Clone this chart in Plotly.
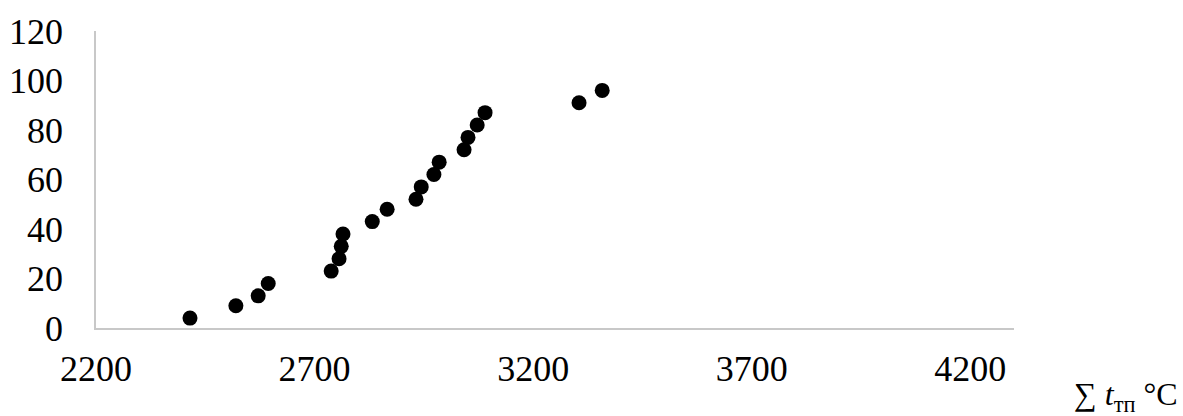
import plotly.graph_objects as go

# Data
sum_t = [2415, 2520, 2571, 2594, 2738, 2756, 2761, 2765, 2832, 2866,
         2932, 2944, 2973, 2985, 3042, 3051, 3072, 3090, 3305, 3358]
values = [4, 9, 13, 18, 23, 28, 33, 38, 43, 48,
          52, 57, 62, 67, 72, 77, 82, 87, 91, 96]
x_ticks = [2200, 2700, 3200, 3700, 4200]
y_ticks = [0, 20, 40, 60, 80, 100, 120]

W, H = 1183, 416
L, R, T, B = 96, 1014, 31, 328

fig = go.Figure()
fig.add_trace(go.Scatter(
    x=sum_t, y=values, mode="markers",
    marker=dict(color="black", size=15, line=dict(width=0)),
    showlegend=False, cliponaxis=False,
))

font = dict(family="Liberation Serif, Times New Roman, serif", size=36, color="black")

fig.update_layout(
    width=W, height=H,
    margin=dict(l=L, r=W - R, t=T, b=H - B, pad=0),
    paper_bgcolor="white", plot_bgcolor="white",
    font=font,
    xaxis=dict(range=[2200, 4300], tickvals=x_ticks, ticktext=[str(v) for v in x_ticks],
               showgrid=False, zeroline=False, showline=True, linecolor="#c8c8c8",
               linewidth=1.5, ticks="", ticklabelstandoff=8, tickfont=font,
               automargin=False),
    yaxis=dict(range=[0, 120], tickvals=y_ticks, ticktext=[str(v) for v in y_ticks],
               showgrid=False, zeroline=False, showline=True, linecolor="#c8c8c8",
               linewidth=1.5, ticks="", ticklabelstandoff=24, tickfont=font,
               automargin=False),
)

fig.add_annotation(
    text="∑ <i>t</i><sub>тп</sub> °C",
    xref="paper", yref="paper",
    x=(1180 - L) / (R - L), y=(B - 419) / (B - T),
    xanchor="right", yanchor="bottom", showarrow=False,
    font=dict(family="Liberation Serif, DejaVu Serif, serif", size=32, color="black"),
)

fig.write_html("out.html")
